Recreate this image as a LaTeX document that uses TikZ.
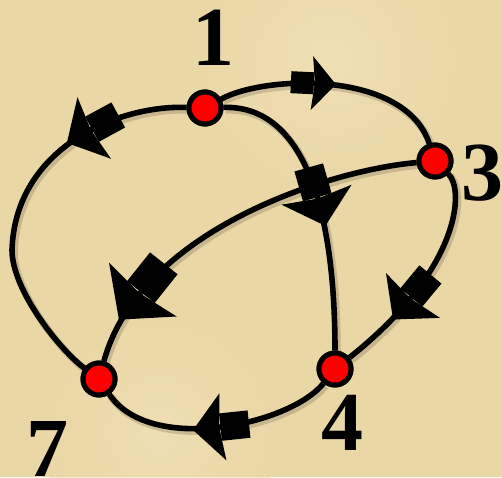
\documentclass[tikz,border=0pt]{standalone}
\usepackage{fontspec}
\setmainfont{Liberation Serif}
\usetikzlibrary{decorations.markings}
\definecolor{parch}{RGB}{234,215,166}
\definecolor{parchlight}{RGB}{243,229,190}
\definecolor{vred}{RGB}{255,0,0}
\tikzset{
  vtx/.style={circle,fill=vred,draw=black,line width=5pt,minimum size=32pt,inner sep=0pt},
  lbl/.style={font=\fontsize{84}{84}\selectfont\bfseries,inner sep=0pt,anchor=base},
  edge/.style={line width=5.6pt,
    preaction={draw=black,draw opacity=0.15,line width=7.5pt,transform canvas={shift={(2pt,-2.5pt)}}}},
  midarrow/.style 2 args={postaction={decorate,decoration={markings,
    mark=at position #1 with {
      \fill[black,scale=#2] (-26,-11) rectangle (-3,11);
      \fill[black,scale=#2] (19,0) -- (-5,-27) -- (-2,0) -- (-5,27) -- cycle;}}}}
}
\begin{document}
\begin{tikzpicture}[x=1pt,y=-1pt]
  \useasboundingbox (0,0) rectangle (502,477);
  \fill[parch] (0,0) rectangle (502,477);
  \shade[inner color=parchlight,outer color=parch,opacity=0.6] (330,60) circle (140);
  \shade[inner color=parchlight,outer color=parch,opacity=0.5] (160,430) circle (120);

  \node[vtx] (n1) at (205,108) {};
  \node[vtx] (n3) at (435,161) {};
  \node[vtx] (n4) at (335,369) {};
  \node[vtx] (n7) at (99,379) {};

  % edges
  \draw[edge,midarrow={0.42}{1.0}] (n1) .. controls (265,75) and (405,70) .. (n3);
  \draw[edge,midarrow={0.26}{1.3}] (n1) .. controls (115,105) and (15,150) .. (12,250)
        .. controls (12,290) and (60,350) .. (n7);
  \draw[edge,midarrow={0.49}{1.35}] (n1) .. controls (300,105) and (335,200) .. (n4);
  \draw[edge,midarrow={0.81}{1.6}] (n3) .. controls (330,170) and (140,230) .. (n7);
  \draw[edge,midarrow={0.63}{1.3}] (n3) .. controls (465,190) and (460,270) .. (n4);
  \draw[edge,midarrow={0.5}{1.25}] (n4) .. controls (290,425) and (150,455) .. (n7);

  % redraw nodes on top
  \node[vtx] at (n1) {};
  \node[vtx] at (n3) {};
  \node[vtx] at (n4) {};
  \node[vtx] at (n7) {};

  \node[lbl] (l1) at (213,65) {1};
  \node[lbl] (l3) at (482,200) {3};
  \node[lbl] (l4) at (342,450) {4};
  \node[lbl] (l7) at (47,476) {7};
\end{tikzpicture}
\end{document}
